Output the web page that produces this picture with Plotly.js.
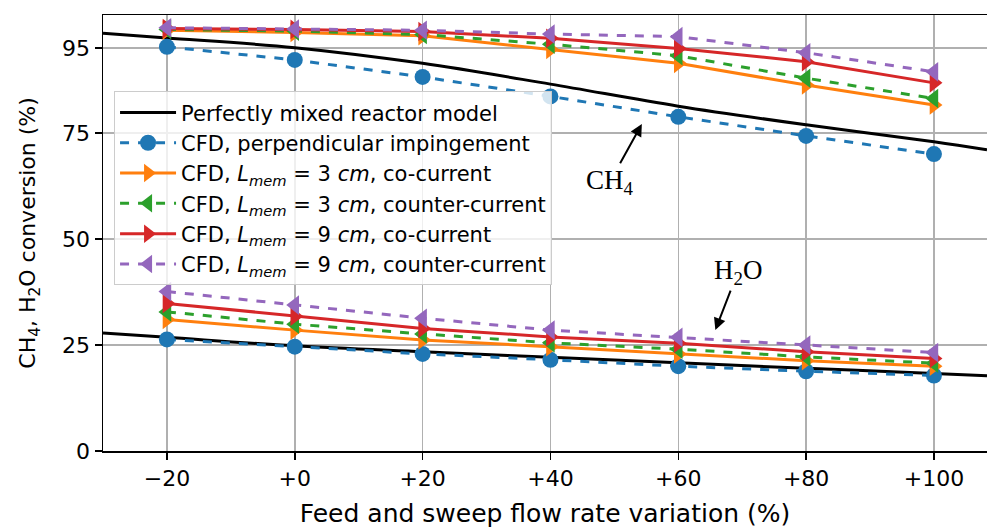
<!DOCTYPE html>
<html>
<head>
<meta charset="utf-8">
<script src="https://cdn.plot.ly/plotly-3.0.1.min.js"></script>
<style>html,body{margin:0;padding:0;background:#fff;}#chart{width:987px;height:531px;}</style>
</head>
<body>
<div id="chart"></div>
<script>
// Flow rate variation (%)
const flowVar = [-20, 0, 20, 40, 60, 80, 100];
const tickVals = [-20, 0, 20, 40, 60, 80, 100];
const tickLabels = ["\u221220", "+0", "+20", "+40", "+60", "+80", "+100"];
const yTickVals = [0, 25, 50, 75, 95];
const yTickLabels = ["0", "25", "50", "75", "95"];

// Perfectly mixed reactor model (curves)
const modelX = [-30, -20, 0, 20, 40, 60, 80, 100, 108.3];
const modelCH4 = [98.5, 97.4, 95.1, 91.4, 86.5, 81.3, 76.9, 72.9, 71.0];
const modelH2O = [27.8, 26.8, 24.8, 23.4, 22.1, 20.8, 19.5, 18.3, 17.75];

// CFD, perpendicular impingement
const perpCH4 = [95.3, 92.2, 88.2, 83.6, 78.8, 74.3, 70.0];
const perpH2O = [26.3, 24.6, 22.9, 21.5, 20.0, 18.8, 17.8];

// CFD, L_mem = 3 cm, co-current
const l3coCH4 = [99.2, 98.7, 97.9, 94.7, 91.4, 86.3, 81.6];
const l3coH2O = [31.0, 28.5, 26.2, 24.6, 22.9, 21.3, 20.0];

// CFD, L_mem = 3 cm, counter-current
const l3ctCH4 = [99.4, 99.0, 98.2, 95.9, 93.2, 87.9, 83.1];
const l3ctH2O = [32.8, 29.9, 27.6, 25.5, 24.0, 22.2, 20.7];

// CFD, L_mem = 9 cm, co-current
const l9coCH4 = [99.6, 99.4, 98.9, 97.3, 94.9, 91.8, 86.8];
const l9coH2O = [34.8, 31.8, 28.9, 26.9, 25.4, 23.4, 21.8];

// CFD, L_mem = 9 cm, counter-current
const l9ctCH4 = [99.8, 99.5, 99.2, 98.3, 97.7, 93.9, 89.4];
const l9ctH2O = [37.6, 34.4, 31.3, 28.5, 26.8, 25.0, 23.2];

const names = [
  "Perfectly mixed reactor model",
  "CFD, perpendicular impingement",
  "CFD, <i>L</i><sub><i>mem</i></sub> = 3 <i>cm</i>, co-current",
  "CFD, <i>L</i><sub><i>mem</i></sub> = 3 <i>cm</i>, counter-current",
  "CFD, <i>L</i><sub><i>mem</i></sub> = 9 <i>cm</i>, co-current",
  "CFD, <i>L</i><sub><i>mem</i></sub> = 9 <i>cm</i>, counter-current"
];
const colors = ["#000000", "#1f77b4", "#ff7f0e", "#2ca02c", "#d62728", "#9467bd"];
const symbols = [null, "circle", "triangle-right", "triangle-left", "triangle-right", "triangle-left"];
const dashes = ["solid", "dash", "solid", "dash", "solid", "dash"];

const cfdCH4 = [perpCH4, l3coCH4, l3ctCH4, l9coCH4, l9ctCH4];
const cfdH2O = [perpH2O, l3coH2O, l3ctH2O, l9coH2O, l9ctH2O];

const traces = [];
traces.push({x: modelX, y: modelCH4, mode: "lines", name: names[0], legendgroup: "g0",
  line: {color: colors[0], width: 3, shape: "spline"}, showlegend: true});
traces.push({x: modelX, y: modelH2O, mode: "lines", name: names[0], legendgroup: "g0",
  line: {color: colors[0], width: 3, shape: "spline"}, showlegend: false});
for (let i = 0; i < 5; i++) {
  const k = i + 1;
  const common = {
    mode: "lines+markers", name: names[k], legendgroup: "g" + k,
    line: {color: colors[k], width: 3, dash: dashes[k]},
    marker: {color: colors[k], symbol: symbols[k], size: k === 1 ? 16 : 17}
  };
  traces.push(Object.assign({x: flowVar, y: cfdCH4[i], showlegend: true}, common));
  traces.push(Object.assign({x: flowVar, y: cfdH2O[i], showlegend: false}, common));
}

const layout = {
  width: 987, height: 531,
  margin: {l: 103, r: 0, t: 15, b: 80},
  paper_bgcolor: "#ffffff", plot_bgcolor: "#ffffff",
  font: {family: "DejaVu Sans", size: 21, color: "#000"},
  showlegend: true,
  legend: {
    x: 0.0125, y: 0.825, xanchor: "left", yanchor: "top",
    bgcolor: "rgba(255,255,255,0.8)", bordercolor: "#cccccc", borderwidth: 1,
    font: {family: "DejaVu Sans", size: 21, color: "#000"},
    traceorder: "grouped", tracegroupgap: 0, itemwidth: 56
  },
  xaxis: {
    range: [-30, 108.3], tickvals: tickVals, ticktext: tickLabels,
    showline: true, linecolor: "#000", linewidth: 1.5, mirror: true,
    ticks: "outside", ticklen: 7, tickwidth: 1.5, tickcolor: "#000",
    showgrid: true, gridcolor: "#b0b0b0", gridwidth: 1.5, zeroline: false,
    tickfont: {size: 22},
    title: {text: "Feed and sweep flow rate variation (%)", font: {size: 25}, standoff: 14}
  },
  yaxis: {
    range: [0, 102.8], tickvals: yTickVals, ticktext: yTickLabels,
    showline: true, linecolor: "#000", linewidth: 1.5, mirror: false,
    ticks: "outside", ticklen: 7, tickwidth: 1.5, tickcolor: "#000",
    showgrid: true, gridcolor: "#b0b0b0", gridwidth: 1.5, zeroline: false,
    tickfont: {size: 22},
    title: {text: "CH<sub>4</sub>, H<sub>2</sub>O conversion (%)", font: {size: 22}, standoff: 20}
  },
  annotations: [
    {x: 54.3, y: 77.1, ax: 49.3, ay: 63.5, xref: "x", yref: "y", axref: "x", ayref: "y",
     text: "CH<sub>4</sub>", showarrow: true, arrowhead: 2, arrowsize: 1.2, arrowwidth: 2,
     arrowcolor: "#000", font: {family: "Liberation Serif", size: 27, color: "#000"}},
    {x: 65.8, y: 28.5, ax: 69.3, ay: 42.2, xref: "x", yref: "y", axref: "x", ayref: "y",
     text: "H<sub>2</sub>O", showarrow: true, arrowhead: 2, arrowsize: 1.2, arrowwidth: 2,
     arrowcolor: "#000", font: {family: "Liberation Serif", size: 27, color: "#000"}}
  ]
};

Plotly.newPlot("chart", traces, layout, {displayModeBar: false, staticPlot: true});
</script>
</body>
</html>
